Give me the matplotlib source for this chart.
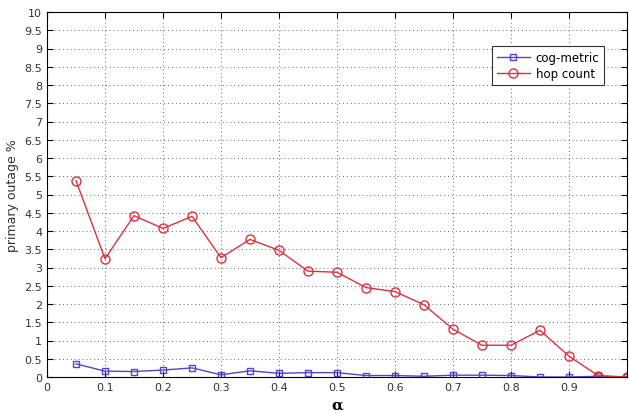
import matplotlib
matplotlib.use("Agg")
import matplotlib.pyplot as plt

alpha = [0.05, 0.1, 0.15, 0.2, 0.25, 0.3, 0.35, 0.4, 0.45, 0.5,
         0.55, 0.6, 0.65, 0.7, 0.75, 0.8, 0.85, 0.9, 0.95, 1.0]
cog_metric = [0.36, 0.16, 0.15, 0.19, 0.25, 0.06, 0.17, 0.10, 0.12, 0.12,
              0.04, 0.04, 0.02, 0.05, 0.05, 0.04, 0.0, 0.0, 0.02, 0.0]
hop_count = [5.38, 3.24, 4.42, 4.07, 4.40, 3.27, 3.77, 3.47, 2.90, 2.87,
             2.45, 2.34, 1.98, 1.31, 0.87, 0.87, 1.28, 0.57, 0.04, 0.0]

xticks = [0, 0.1, 0.2, 0.3, 0.4, 0.5, 0.6, 0.7, 0.8, 0.9]
xtick_labels = ["0", "0.1", "0.2", "0.3", "0.4", "0.5", "0.6", "0.7", "0.8", "0.9"]
yticks = [i * 0.5 for i in range(21)]
ytick_labels = ["0", "0.5", "1", "1.5", "2", "2.5", "3", "3.5", "4", "4.5", "5",
                "5.5", "6", "6.5", "7", "7.5", "8", "8.5", "9", "9.5", "10"]

fig = plt.figure(figsize=(6.29, 4.14), dpi=100)
ax = fig.add_axes([47 / 629, 36 / 414, 580 / 629, 365 / 414])

ax.plot(alpha, cog_metric, color="#5a3fd0", marker="s", markersize=5,
        markerfacecolor="none", markeredgewidth=1, linewidth=1, label="cog-metric")
ax.plot(alpha, hop_count, color="#e0303c", marker="o", markersize=6.5,
        markerfacecolor="none", markeredgewidth=1, linewidth=1, label="hop count")

ax.set_xlim(0, 1)
ax.set_ylim(0, 10)
ax.set_xticks(xticks)
ax.set_xticklabels(xtick_labels)
ax.set_yticks(yticks)
ax.set_yticklabels(ytick_labels)
ax.tick_params(direction="in", top=True, right=True, labelsize=8,
               labelcolor="#333333", length=4)
ax.grid(True, linestyle=(0, (1, 3)), color="#666666", linewidth=0.7)
for s in ax.spines.values():
    s.set_linewidth(0.8)

ax.set_ylabel("primary outage %", fontsize=9, color="#333333", labelpad=4)
ax.set_xlabel("α", fontsize=11, fontweight="bold", family="DejaVu Serif", labelpad=4)

leg = ax.legend(loc="upper right", bbox_to_anchor=(557 / 580, 1 - 34 / 365),
                borderaxespad=0, fontsize=8.5, frameon=True, fancybox=False,
                framealpha=1, edgecolor="#333333", handlelength=2.8,
                borderpad=0.4, labelspacing=0.3, handletextpad=0.5)
leg.get_frame().set_linewidth(0.8)

fig.savefig("out.png", dpi=100)
